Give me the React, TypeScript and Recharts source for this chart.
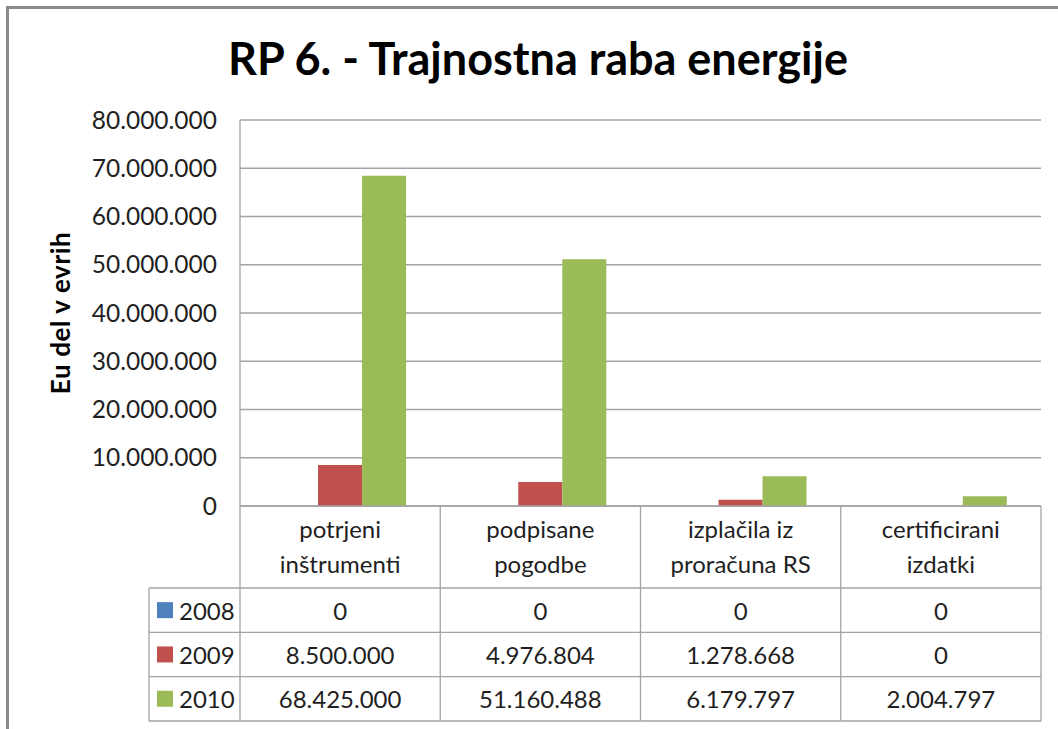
import React from 'react';
import { BarChart, Bar, XAxis, YAxis, CartesianGrid, Label } from 'recharts';

const categories = ['potrjeni inštrumenti', 'podpisane pogodbe', 'izplačila iz proračuna RS', 'certificirani izdatki'];
const categoryLines = [
    ['potrjeni', 'inštrumenti'],
    ['podpisane', 'pogodbe'],
    ['izplačila iz', 'proračuna RS'],
    ['certificirani', 'izdatki'],
];
const years = ['2008', '2009', '2010'];
const values2008 = [0, 0, 0, 0];
const values2009 = [8500000, 4976804, 1278668, 0];
const values2010 = [68425000, 51160488, 6179797, 2004797];
const yTicks = [0, 10000000, 20000000, 30000000, 40000000, 50000000, 60000000, 70000000, 80000000];

const colors = ['#4F81BD', '#C0504D', '#9BBB59'];
const seriesValues = [values2008, values2009, values2010];

const data = categories.map((name, i) => ({
    name,
    y2008: values2008[i],
    y2009: values2009[i],
    y2010: values2010[i],
}));

const fmt = (v: number) => String(Math.round(v)).replace(/\B(?=(\d{3})+(?!\d))/g, '.');

const FONT = 'Lato, "Open Sans", sans-serif';
const TEXT = '#1f1f1f';
const LINE = '#a3a3a3';
const W = 1058;
const H = 729;
const M = { top: 120, right: 17, left: 0, bottom: 0 };
const Y_AXIS_W = 240;
const TABLE_H = 215;
const HEADER_H = 82;
const ROW_H = 44.3;
const LEGEND_W = 91;

const TableColumn = (props: any) => {
    const { x, y, payload, index } = props;
    const plotW = W - Y_AXIS_W - M.right;
    const band = payload?.offset ? payload.offset * 2 : plotW / categories.length;
    const i = payload?.index ?? index;
    const left = x - band / 2;
    const right = x + band / 2;
    const rows = [0, 1, 2].map((r) => y + HEADER_H + r * ROW_H);
    return (
        <g fontFamily={FONT} fontSize={24} fill={TEXT}>
            <line x1={right} x2={right} y1={y} y2={y + TABLE_H} stroke={LINE} strokeWidth={1.3} />
            {i === 0 && <line x1={left} x2={left} y1={y} y2={y + TABLE_H} stroke={LINE} strokeWidth={1.3} />}
            {[...rows, y + TABLE_H].map((ry, k) => (
                <line key={k} x1={i === 0 ? left - LEGEND_W : left} x2={right} y1={ry} y2={ry} stroke={LINE} strokeWidth={1.3} />
            ))}
            {i === 0 && (
                <g>
                    <line x1={left - LEGEND_W} x2={left - LEGEND_W} y1={rows[0]} y2={y + TABLE_H} stroke={LINE} strokeWidth={1.3} />
                    {years.map((yr, r) => (
                        <g key={yr}>
                            <rect x={left - LEGEND_W + 8} y={rows[r] + ROW_H / 2 - 8} width={16} height={16} fill={colors[r]} />
                            <text x={left - LEGEND_W + 30} y={rows[r] + ROW_H / 2} dominantBaseline="central" fill={TEXT}>{yr}</text>
                        </g>
                    ))}
                </g>
            )}
            {categoryLines[i].map((t, k) => (
                <text key={k} x={x} y={y + 22 + k * 35} textAnchor="middle" dominantBaseline="central" fill={TEXT}>{t}</text>
            ))}
            {seriesValues.map((vals, r) => (
                <text key={r} x={x} y={rows[r] + ROW_H / 2} textAnchor="middle" dominantBaseline="central" fill={TEXT}>{fmt(vals[i])}</text>
            ))}
        </g>
    );
};

export default function App() {
    return (
        <div style={{ position: 'absolute', left: 0, top: 0, width: W, height: H, background: '#fff', overflow: 'hidden' }}>
            <div style={{ position: 'absolute', left: 6, top: 6, width: W, height: H, borderLeft: '3px solid #8a8a8a', borderTop: '3px solid #8a8a8a', boxSizing: 'border-box' }} />
            <div style={{ position: 'absolute', left: 0, top: 31, width: W + 18, textAlign: 'center', fontFamily: FONT, fontWeight: 700, fontSize: 45, color: '#000' }}>
                RP 6. - Trajnostna raba energije
            </div>
            <div style={{ position: 'absolute', left: 0, top: 0 }}>
                <BarChart width={W} height={H} data={data} margin={M} barCategoryGap="17%" barGap={0}>
                    <CartesianGrid vertical={false} stroke={LINE} strokeWidth={1.3} />
                    <XAxis
                        dataKey="name"
                        height={H - 506}
                        axisLine={{ stroke: LINE, strokeWidth: 1.3 }}
                        tickLine={false}
                        tickSize={0}
                        tickMargin={0}
                        interval={0}
                        tick={(p: any) => <TableColumn {...p} />}
                    />
                    <YAxis
                        width={Y_AXIS_W}
                        domain={[0, 80000000]}
                        ticks={yTicks}
                        interval={0}
                        axisLine={{ stroke: LINE, strokeWidth: 1.3 }}
                        tickLine={false}
                        tickSize={0}
                        tickMargin={23}
                        tickFormatter={fmt}
                        tick={{ fill: TEXT, fontSize: 24.5, fontFamily: FONT }}
                    >
                        <Label
                            content={({ viewBox }: any) => {
                                const cx = viewBox.x + 60;
                                const cy = viewBox.y + viewBox.height / 2;
                                return (
                                    <text x={cx} y={cy} transform={`rotate(-90 ${cx} ${cy})`} textAnchor="middle" dominantBaseline="central" fontFamily={FONT} fontWeight={700} fontSize={26} letterSpacing={0.6} fill="#000">
                                        Eu del v evrih
                                    </text>
                                );
                            }}
                        />
                    </YAxis>
                    <Bar dataKey="y2008" fill={colors[0]} isAnimationActive={false} />
                    <Bar dataKey="y2009" fill={colors[1]} isAnimationActive={false} />
                    <Bar dataKey="y2010" fill={colors[2]} isAnimationActive={false} />
                </BarChart>
            </div>
        </div>
    );
}
